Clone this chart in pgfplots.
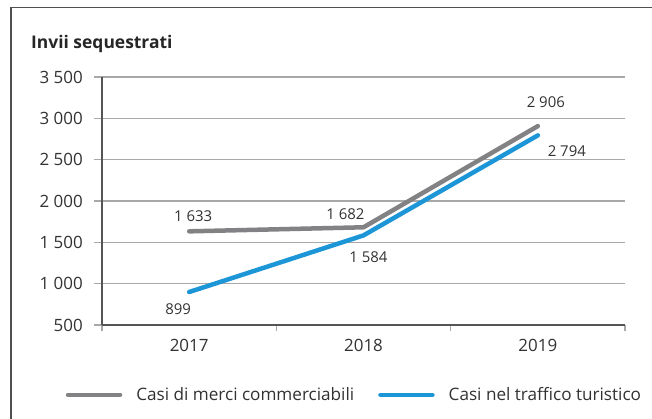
\documentclass[border=0pt]{standalone}
\usepackage{pgfplots}
\pgfplotsset{compat=1.18}
\usepackage{fontspec}
\setmainfont{Open Sans}
\definecolor{cgray}{RGB}{130,130,132}
\definecolor{cblue}{RGB}{28,150,214}
\definecolor{gridc}{RGB}{168,168,168}
\definecolor{axc}{RGB}{85,85,85}
\definecolor{txt}{RGB}{50,50,50}
\definecolor{framec}{RGB}{80,80,80}
\begin{document}
\begin{tikzpicture}[x=1bp,y=1bp]
\useasboundingbox (0,0) rectangle (652,418);
\draw[framec, line width=1.3bp] (11,-5) -- (11,410.7) -- (660,410.7);
\node[anchor=base west, inner sep=0pt, font=\fontsize{17.5}{20}\selectfont\bfseries, text=black!85] at (31,369.5) {Invii sequestrati};
\begin{axis}[
  at={(102bp,93bp)}, anchor=south west,
  scale only axis, width=523bp, height=248bp,
  xmin=-0.5, xmax=2.5, ymin=500, ymax=3500,
  axis x line*=bottom, axis y line*=left,
  axis line style={axc, line width=1.2bp},
  xtick={0,1,2}, xticklabels={2017,2018,2019},
  major x tick style={draw=none},
  minor xtick={-0.5,0.5,1.5,2.5},
  minor x tick style={gridc, line width=1.2bp},
  minor tick length=6bp,
  ytick={500,1000,1500,2000,2500,3000,3500},
  yticklabels={500,1 000,1 500,2 000,2 500,3 000,3 500},
  major y tick style={gridc, line width=1.2bp},
  major tick length=8bp,
  tick align=outside,
  ymajorgrids, grid style={gridc, line width=1.2bp},
  ticklabel style={font=\fontsize{17}{20}\selectfont, text=txt},
  yticklabel style={anchor=east, inner sep=0pt, xshift=-11bp},
  xticklabel style={anchor=north, inner sep=0pt, yshift=-6bp},
  clip=false,
  nodes near coords,
  point meta=explicit symbolic,
  visualization depends on={value \thisrow{dx} \as \dx},
  visualization depends on={value \thisrow{dy} \as \dy},
  every node near coord/.append style={anchor=center, xshift=\dx bp, yshift=\dy bp, font=\fontsize{15}{18}\selectfont, text=txt, inner sep=0pt},
  legend columns=2,
  legend style={at={(-0.0696,-0.282)}, anchor=west, draw=none, fill=none, inner sep=0pt,
    font=\fontsize{17.2}{19}\selectfont, text=txt,
    nodes={inner sep=0pt, anchor=west},
    /tikz/every even column/.append style={column sep=24bp}},
  legend image code/.code={\draw[#1, line cap=round] (0bp,0bp) -- (52bp,0bp);},
  legend cell align=left,
]
\addplot[cgray, line width=4.5bp, line cap=round, line join=round, mark=none]
  table[meta=lab] {
x y dx dy lab
0 1633 4 15 {1 633}
1 1682 -18 13 {1 682}
2 2906 8 24 {2 906}
};
\addlegendentry{\hspace{14bp}Casi di merci commerciabili}
\addplot[cblue, line width=4.5bp, line cap=round, line join=round, mark=none]
  table[meta=lab] {
x y dx dy lab
0 899 -11 -17 899
1 1584 5 -22 {1 584}
2 2794 29 -16 {2 794}
};
\addlegendentry{\hspace{14bp}Casi nel traffico turistico}
\end{axis}
\end{tikzpicture}
\end{document}
